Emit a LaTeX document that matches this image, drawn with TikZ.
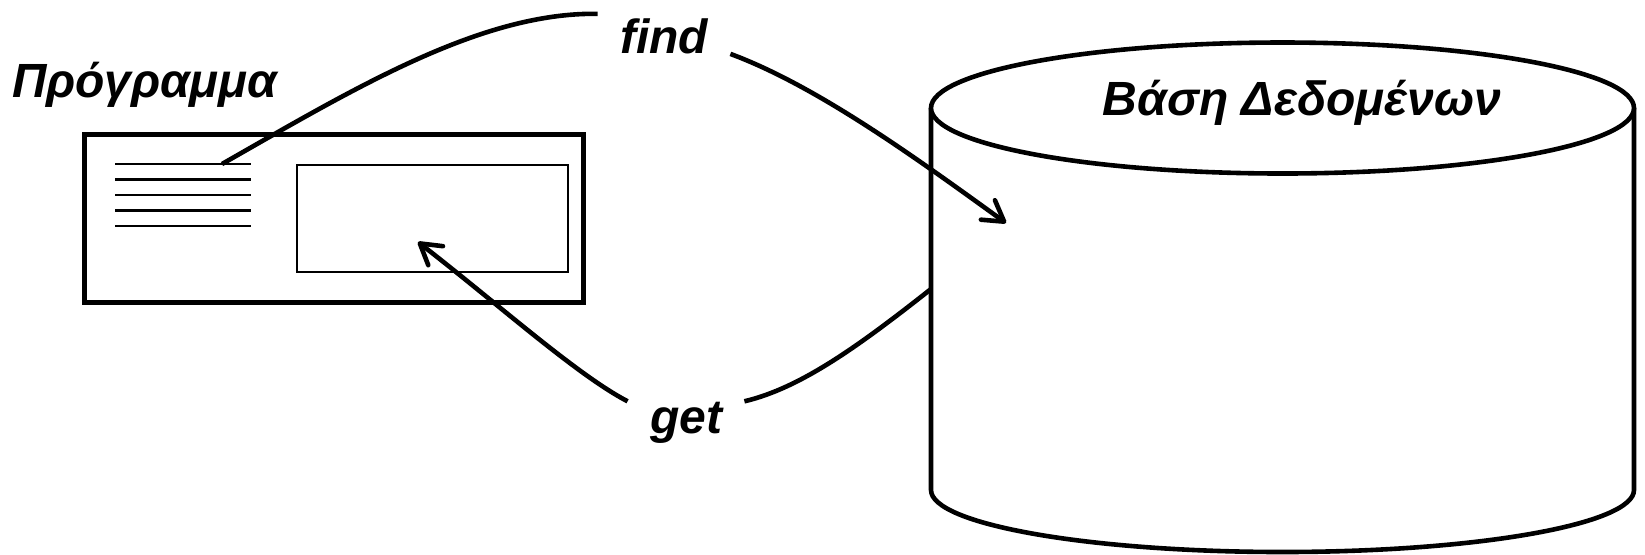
\documentclass[tikz,border=0pt]{standalone}
\usepackage{fontspec}
\setmainfont{Liberation Sans}
\usetikzlibrary{arrows.meta}

\tikzset{
  lbl/.style={font=\fontsize{24}{28}\selectfont\bfseries\itshape,
    inner xsep=11pt, inner ysep=0pt, anchor=base},
  wire/.style={line width=2.3pt, line join=round},
  barb/.style={-{Straight Barb[length=10pt,width=12pt,round]}},
}

\begin{document}
\begin{tikzpicture}[x=0.5pt, y=-0.5pt]
  \useasboundingbox (0,0) rectangle (1645,554);

  % Program window with its text lines and screen
  \node[draw, line width=2.5pt, inner sep=0pt,
    minimum width=249.75pt, minimum height=84pt] (prog) at (333.75,218) {};
  \node[draw, line width=1.3pt, inner sep=0pt,
    minimum width=135.6pt, minimum height=53.6pt] (scr) at (432.4,218.4) {};
  \foreach \i in {0,...,4}
    \draw[line width=1.1pt] (115,164+15.5*\i) -- (251,164+15.5*\i);

  % Database cylinder
  \draw[wire] (931,108) -- (931,490)
    arc[start angle=180, end angle=0, x radius=351.5, y radius=62]
    -- (1634,108);
  \draw[wire, fill=white] (1282.5,108) ellipse [x radius=351.5, y radius=65.5];

  % Labels
  \node[lbl] (progname) at (145,97) {Πρόγραμμα};
  \node[lbl] (dbname) at (1302,115) {Βάση Δεδομένων};
  \node[lbl] (find) at (664,53) {find};
  \node[lbl] (get) at (686,433) {get};

  \coordinate (l1) at (222,164);
  \coordinate (dbin) at (1006,223);
  \coordinate (dbside) at (931,289);
  \coordinate (scrin) at (418,242);

  % find: from the program text into the database
  \draw[wire] (l1) .. controls (352,90) and (480,12) .. ([yshift=2pt]find.north west);
  \draw[wire, barb] (find.south east) .. controls (817,86) and (916,158) .. (dbin);

  % get: from the database back onto the screen
  \draw[wire] (dbside) .. controls (860,345) and (801,388) .. (get.north east);
  \draw[wire, barb] (get.north west) .. controls (577,375) and (498,304) .. (scrin);
\end{tikzpicture}
\end{document}
